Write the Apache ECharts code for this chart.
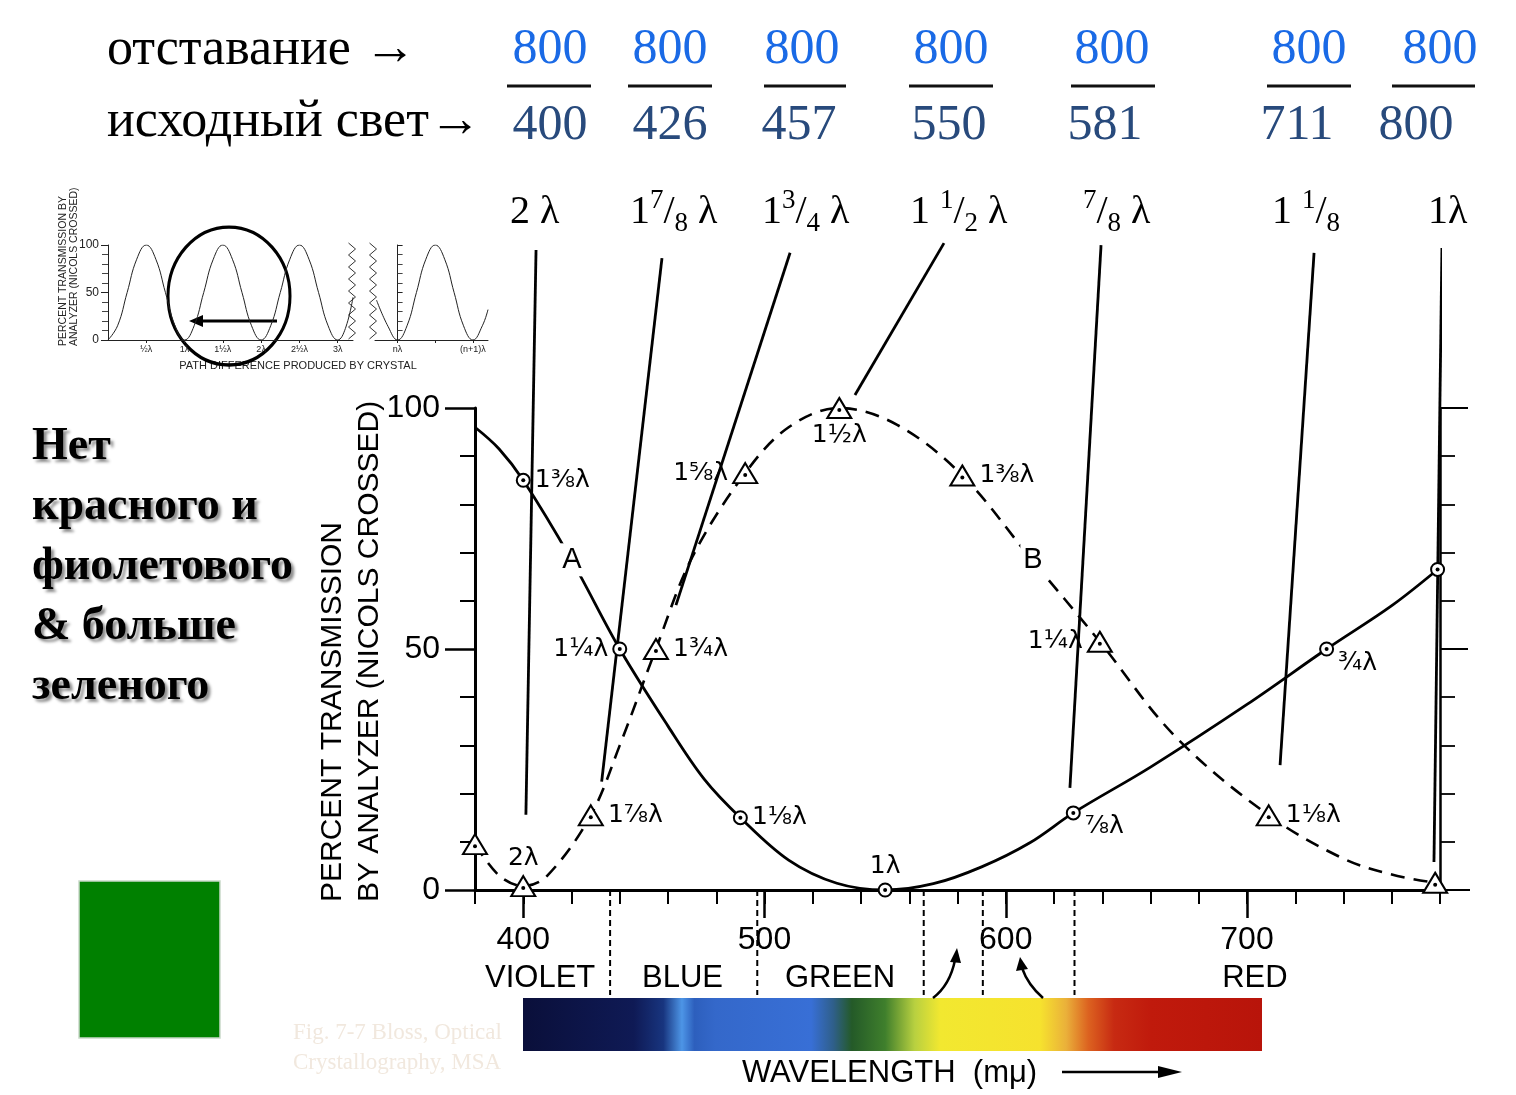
<!DOCTYPE html>
<html><head><meta charset="utf-8">
<script src="https://cdn.jsdelivr.net/npm/echarts@6/dist/echarts.min.js"></script>
<style>html,body{margin:0;padding:0;background:#fff}#c{width:1516px;height:1095px}</style>
</head><body><div id="c"></div><script>
const SANS = "'Liberation Sans', Arial, sans-serif";
const DSANS = "'DejaVu Sans', sans-serif";
const SERIF = "'Liberation Serif', 'Times New Roman', serif";

// ---- main chart data (wavelength in mμ, percent transmission) ----
const aWave  = [380, 390, 400, 420, 440, 460, 475, 490, 510, 530, 550, 570, 590, 610, 628, 660, 700, 733, 760, 779];
const aValue = [96, 91.5, 85, 68.5, 50, 34, 23, 15, 6.2, 1.4, 0, 1.3, 4.8, 9.8, 16, 25.5, 38.5, 50, 59, 66.5];
const aMarkLabel = [null, null, '1⅜λ', null, '1¼λ', null, null, '1⅛λ', null, null, '1λ', null, null, null, '⅞λ', null, null, '¾λ', null, ''];
const aLabelPos  = [null, null, 'right', null, 'left', null, null, 'right', null, null, 'top', null, null, null, 'right', null, null, 'right', null, null];

const bWave  = [380, 390, 400, 410, 428, 440, 455, 470, 492, 510, 531, 555, 582, 610, 639, 670, 709, 740, 760, 778];
const bValue = [9.5, 3, 0.8, 3, 15.5, 30, 50, 69, 86.5, 96, 100, 96.5, 86, 69, 51.5, 32, 15.5, 6.5, 3.2, 1.5];
const bMarkLabel = ['', null, '2λ', null, '1⅞λ', null, '1¾λ', null, '1⅝λ', null, '1½λ', null, '1⅜λ', null, '1¼λ', null, '1⅛λ', null, null, ''];
const bLabelPos  = [null, null, 'top', null, 'right', null, 'right', null, 'left', null, 'bottom', null, 'right', null, 'left', null, 'right', null, null, null];

const curveNames = ['A', 'B'];
const curveNameX = [420.2, 611.3];
const curveNameY = [68.5, 68.5];

// annotation lines: from the retardation labels above the plot down to the curves
const annoTop = [[405.3, 132.8], [457.5, 131.1], [510.6, 132.2], [574.4, 134.2], [639.5, 133.8], [727.8, 132.2], [780.8, 133.2]];
const annoEnd = [[401.1, 15.6], [432.5, 22.5], [463.3, 59.1], [537.5, 102.7], [626.6, 21.2], [713.7, 25.9], [777.5, 5.8]];

const xMajor = [400, 500, 600, 700];
const bandEdges = [436, 497, 566, 590.5, 628.5];
const bandEdgeBottom = -21.8;
const bandNames = ['VIOLET', 'BLUE', 'GREEN', 'RED'];
const bandLabelX = [407, 466, 531.3, 703.3];
const bandLabelY = -18.3;

// ---- header texts ----
const retardNum = ['800', '800', '800', '800', '800', '800', '800'];
const sourceDen = ['400', '426', '457', '550', '581', '711', '800'];
const lambdaRow = ['{n|2 λ}', '{n|1}{sup|7}{n|/}{sub|8}{n| λ}', '{n|1}{sup|3}{n|/}{sub|4}{n| λ}',
  '{n|1 }{sup|1}{n|/}{sub|2}{n| λ}', '{sup|7}{n|/}{sub|8}{n| λ}', '{n|1 }{sup|1}{n|/}{sub|8}', '{n|1λ}'];

// ---- inset (transmission vs path difference) ----
const insetX = [0, .125, .25, .375, .5, .625, .75, .875, 1, 1.125, 1.25, 1.375, 1.5, 1.625, 1.75, 1.875, 2, 2.125, 2.25, 2.375, 2.5, 2.625, 2.75, 2.875, 3, 3.1, 3.2];
const insetY = [0, 15, 50, 85, 100, 85, 50, 15, 0, 15, 50, 85, 100, 85, 50, 15, 0, 15, 50, 85, 100, 85, 50, 15, 0, 12, 45];
const inset2X = [-0.28, -0.125, 0, .125, .25, .375, .5, .625, .75, .875, 1, 1.125, 1.2];
const inset2Y = [42, 14, 0, 15, 50, 85, 100, 85, 50, 15, 0, 15, 32];
const insetTickVals = [0.5, 1, 1.5, 2, 2.5, 3];
const insetTickText = ['½λ', '1λ', '1½λ', '2λ', '2½λ', '3λ'];
const inset2TickVals = [0, 1];
const inset2TickText = ['nλ', '(n+1)λ'];

// ---------------------------------------------------------------
const chart = echarts.init(document.getElementById('c'));

const pairs = (xs, ys) => xs.map((x, i) => [x, ys[i]]);

function markers(xs, ys, labels, pos) {
  const out = [];
  xs.forEach((x, i) => {
    if (labels[i] === null) return;
    const p = pos[i] || 'right';
    let offset = [0, 0];
    if (labels[i] === '⅞λ' || labels[i] === '¾λ') offset = [0, 14];
    out.push({ value: [x, ys[i]], label: { show: !!labels[i], formatter: labels[i], position: p, offset: offset } });
  });
  return out;
}

const labelStyle = { color: '#000', opacity: 1, fontSize: 25, fontFamily: DSANS, distance: 4 };

const series = [
  { type: 'line', xAxisIndex: 0, yAxisIndex: 0, data: pairs(aWave, aValue), smooth: 0.35, symbol: 'none',
    lineStyle: { color: '#000', width: 2.8 }, z: 3, silent: true },
  { type: 'line', xAxisIndex: 0, yAxisIndex: 0, data: pairs(bWave, bValue), smooth: 0.35, symbol: 'none',
    lineStyle: { color: '#000', width: 2.6, type: [14, 9] }, z: 3, silent: true },
  { type: 'scatter', xAxisIndex: 0, yAxisIndex: 0, data: markers(aWave, aValue, aMarkLabel, aLabelPos),
    symbol: 'emptyCircle', symbolSize: 13, itemStyle: { color: '#000', borderWidth: 2, opacity: 1 }, label: labelStyle, z: 6, clip: false, silent: true },
  { type: 'scatter', xAxisIndex: 0, yAxisIndex: 0, data: markers(bWave, bValue, bMarkLabel, bLabelPos),
    symbol: 'emptyTriangle', symbolSize: [24, 20], itemStyle: { color: '#000', borderWidth: 2.2, opacity: 1 }, label: labelStyle, z: 6, clip: false, silent: true },
  { type: 'scatter', xAxisIndex: 0, yAxisIndex: 0,
    data: markers(aWave, aValue, aMarkLabel, aLabelPos).map(d => d.value).concat(markers(bWave, bValue, bMarkLabel, bLabelPos).map(d => [d.value[0], d.value[1] - 0.4])),
    symbol: 'circle', symbolSize: 4, itemStyle: { color: '#000', opacity: 1 }, z: 7, clip: false, silent: true },
  { type: 'scatter', xAxisIndex: 0, yAxisIndex: 0, data: curveNames.map((n, i) => ({ value: [curveNameX[i], curveNameY[i]], name: n })),
    symbolSize: 0, itemStyle: { opacity: 1 }, label: { show: true, formatter: '{b}', position: 'inside', color: '#000', opacity: 1, fontSize: 29, fontFamily: SANS,
      backgroundColor: '#fff', padding: [2, 3] }, z: 8, silent: true },
  { type: 'scatter', xAxisIndex: 0, yAxisIndex: 0, data: bandNames.map((n, i) => ({ value: [bandLabelX[i], bandLabelY], name: n })),
    symbolSize: 0, clip: false, itemStyle: { opacity: 1 }, label: { show: true, formatter: '{b}', position: 'inside', color: '#000', opacity: 1, fontSize: 31, fontFamily: SANS }, silent: true }
];
annoTop.forEach((t, i) => {
  series.push({ type: 'line', xAxisIndex: 0, yAxisIndex: 0, data: [t, annoEnd[i]], symbol: 'none', clip: false,
    lineStyle: { color: '#000', width: 2.8 }, z: 5, silent: true });
});
bandEdges.forEach(x => {
  series.push({ type: 'line', xAxisIndex: 0, yAxisIndex: 0, data: [[x, 0], [x, bandEdgeBottom]], symbol: 'none', clip: false,
    lineStyle: { color: '#000', width: 2, type: [6, 4] }, z: 2, silent: true });
});
series.push({ type: 'line', xAxisIndex: 2, yAxisIndex: 2, data: pairs(insetX, insetY), smooth: 0.45, symbol: 'none',
  lineStyle: { color: '#222', width: 1 }, silent: true });
series.push({ type: 'line', xAxisIndex: 3, yAxisIndex: 3, data: pairs(inset2X, inset2Y), smooth: 0.45, symbol: 'none',
  lineStyle: { color: '#222', width: 1 }, silent: true });

// ---- graphic (text & decoration) ----
const g = [];
const numX = [550, 670, 802, 951, 1112, 1309, 1440];
const denX = [550, 670, 799, 949, 1105, 1297, 1416];
const barX = [[507, 591], [628, 712], [764, 846], [909, 993], [1071, 1155], [1267, 1351], [1392, 1475]];
const lamX = [510, 630, 762, 910, 1083, 1272, 1428];
g.push({ type: 'text', x: 107, y: 50, style: { text: 'отставание →', font: '52px ' + SERIF, fill: '#000', textAlign: 'left', textVerticalAlign: 'middle' } });
g.push({ type: 'text', x: 107, y: 122, style: { text: 'исходный свет→', font: '52px ' + SERIF, fill: '#000', textAlign: 'left', textVerticalAlign: 'middle' } });
retardNum.forEach((t, i) => {
  g.push({ type: 'text', x: numX[i], y: 50, style: { text: t, font: '50px ' + SERIF, fill: '#1a6ae6', textAlign: 'center', textVerticalAlign: 'middle' } });
  g.push({ type: 'line', shape: { x1: barX[i][0], y1: 86, x2: barX[i][1], y2: 86 }, style: { stroke: '#111', lineWidth: 3 } });
  g.push({ type: 'text', x: denX[i], y: 126, style: { text: sourceDen[i], font: '50px ' + SERIF, fill: '#284a7c', textAlign: 'center', textVerticalAlign: 'middle' } });
  g.push({ type: 'text', x: lamX[i], y: 212, style: { text: lambdaRow[i], fill: '#000', textAlign: 'left', textVerticalAlign: 'middle',
    rich: {
      n: { fontSize: 40, fontFamily: SERIF, lineHeight: 50, verticalAlign: 'middle', fill: '#000', color: '#000' },
      sup: { fontSize: 27, fontFamily: SERIF, lineHeight: 30, verticalAlign: 'top', fill: '#000', color: '#000' },
      sub: { fontSize: 27, fontFamily: SERIF, lineHeight: 30, verticalAlign: 'bottom', fill: '#000', color: '#000' }
    } } });
});
// left statement
g.push({ type: 'text', x: 32, y: 417, style: { text: 'Нет\nкрасного и\nфиолетового\n& больше\nзеленого',
  font: 'bold 46px ' + SERIF, lineHeight: 60, fill: '#000', textAlign: 'left', textVerticalAlign: 'top',
  textShadowColor: 'rgba(0,0,0,0.45)', textShadowBlur: 3, textShadowOffsetX: 3, textShadowOffsetY: 3 } });
// green square
g.push({ type: 'rect', shape: { x: 79, y: 881, width: 141, height: 157 }, style: { fill: '#008000', stroke: '#c9d9c9', lineWidth: 1.5 } });
// faded caption
g.push({ type: 'text', x: 293, y: 1048, style: { text: 'Fig. 7-7 Bloss, Optical\nCrystallography, MSA', font: '23px ' + SERIF, lineHeight: 30,
  fill: '#f1e8de', textAlign: 'left', textVerticalAlign: 'middle' } });
// main y-axis title
g.push({ type: 'text', x: 333, y: 902, rotation: Math.PI / 2, style: { text: 'PERCENT TRANSMISSION', font: '30px ' + SANS, fill: '#000', textAlign: 'left', textVerticalAlign: 'middle' } });
g.push({ type: 'text', x: 370, y: 902, rotation: Math.PI / 2, style: { text: 'BY ANALYZER (NICOLS CROSSED)', font: '30px ' + SANS, fill: '#000', textAlign: 'left', textVerticalAlign: 'middle' } });
// x-axis line extension past right frame
g.push({ type: 'line', shape: { x1: 1440, y1: 890, x2: 1470, y2: 890 }, style: { stroke: '#000', lineWidth: 2 } });
// spectrum bar
g.push({ type: 'rect', shape: { x: 523, y: 998, width: 739, height: 53 }, style: { fill: {
  type: 'linear', x: 0, y: 0, x2: 1, y2: 0, colorStops: [
    { offset: 0, color: '#0a0f3a' }, { offset: 0.15, color: '#0f1a55' }, { offset: 0.19, color: '#18357f' },
    { offset: 0.215, color: '#4d95e6' }, { offset: 0.232, color: '#2d5fbd' }, { offset: 0.26, color: '#3468ca' },
    { offset: 0.39, color: '#386fd6' }, { offset: 0.42, color: '#2f5f8a' }, { offset: 0.445, color: '#245a28' },
    { offset: 0.49, color: '#3f7f2c' }, { offset: 0.53, color: '#b8d040' }, { offset: 0.565, color: '#f2e830' },
    { offset: 0.7, color: '#f6e22e' }, { offset: 0.735, color: '#eab03a' }, { offset: 0.765, color: '#dc6220' },
    { offset: 0.8, color: '#c72a12' }, { offset: 0.85, color: '#c01a0c' }, { offset: 1, color: '#b8140a' }] } } });
// wavelength caption + arrow
g.push({ type: 'text', x: 742, y: 1073, style: { text: 'WAVELENGTH  (mμ)', font: '31px ' + SANS, fill: '#000', textAlign: 'left', textVerticalAlign: 'middle' } });
g.push({ type: 'line', shape: { x1: 1062, y1: 1072, x2: 1165, y2: 1072 }, style: { stroke: '#000', lineWidth: 2.5 } });
g.push({ type: 'polygon', shape: { points: [[1158, 1066], [1182, 1072], [1158, 1078]] }, style: { fill: '#000' } });
// small curved arrows
g.push({ type: 'bezierCurve', shape: { x1: 933, y1: 998, cpx1: 950, cpy1: 985, x2: 955, y2: 960 }, style: { stroke: '#000', lineWidth: 2.5, fill: null } });
g.push({ type: 'polygon', shape: { points: [[950, 962], [957, 948], [961, 963]] }, style: { fill: '#000' } });
g.push({ type: 'bezierCurve', shape: { x1: 1043, y1: 998, cpx1: 1028, cpy1: 985, x2: 1022, y2: 968 }, style: { stroke: '#000', lineWidth: 2.5, fill: null } });
g.push({ type: 'polygon', shape: { points: [[1016, 971], [1020, 957], [1028, 969]] }, style: { fill: '#000' } });
// inset decorations
g.push({ type: 'text', x: 63, y: 346, rotation: Math.PI / 2, style: { text: 'PERCENT TRANSMISSION BY', font: '10.5px ' + SANS, fill: '#222', textAlign: 'left', textVerticalAlign: 'middle' } });
g.push({ type: 'text', x: 74, y: 346, rotation: Math.PI / 2, style: { text: 'ANALYZER (NICOLS CROSSED)', font: '10.5px ' + SANS, fill: '#222', textAlign: 'left', textVerticalAlign: 'middle' } });
g.push({ type: 'text', x: 298, y: 366, style: { text: 'PATH DIFFERENCE PRODUCED BY CRYSTAL', font: '11px ' + SANS, fill: '#222', textAlign: 'center', textVerticalAlign: 'middle' } });
g.push({ type: 'circle', x: 229, y: 296, scaleY: 1.13, shape: { cx: 0, cy: 0, r: 61 }, style: { fill: null, stroke: '#000', lineWidth: 3, strokeNoScale: true } });
g.push({ type: 'line', shape: { x1: 277, y1: 321, x2: 200, y2: 321 }, style: { stroke: '#000', lineWidth: 3 } });
g.push({ type: 'polygon', shape: { points: [[203, 315], [189, 321], [203, 327]] }, style: { fill: '#000' } });
function zig(x0) { const p = []; for (let k = 0; k <= 16; k++) p.push([x0 + (k % 2 ? 3.5 : -3.5), 243 + k * 6]); return p; }
g.push({ type: 'polyline', shape: { points: zig(352) }, style: { stroke: '#333', lineWidth: 1, fill: null } });
g.push({ type: 'polyline', shape: { points: zig(373) }, style: { stroke: '#333', lineWidth: 1, fill: null } });

const option = {
  animation: false,
  backgroundColor: '#fff',
  grid: [
    { left: 475, top: 408, width: 965, height: 482, outerBoundsMode: 'none' },
    { left: 108, top: 245, width: 245, height: 95, outerBoundsMode: 'none' },
    { left: 375, top: 245, width: 113, height: 95, outerBoundsMode: 'none' }
  ],
  xAxis: [
    { gridIndex: 0, type: 'value', min: 380, max: 780, position: 'bottom',
      axisLine: { show: true, lineStyle: { color: '#000', width: 3 } },
      axisTick: { show: true, customValues: xMajor, length: 28, lineStyle: { color: '#000', width: 2.5 } },
      axisLabel: { show: true, customValues: xMajor, margin: 34, color: '#000', fontSize: 32, fontFamily: SANS },
      splitLine: { show: false } },
    { gridIndex: 0, type: 'value', min: 380, max: 780, interval: 20, position: 'bottom', offset: 0,
      axisLine: { show: false }, axisTick: { show: true, length: 14, lineStyle: { color: '#000', width: 2 } },
      axisLabel: { show: false }, splitLine: { show: false } },
    { gridIndex: 1, type: 'value', min: 0, max: 3.2, position: 'bottom',
      axisLine: { show: true, lineStyle: { color: '#222', width: 1 } },
      axisTick: { show: true, customValues: insetTickVals, length: 3, lineStyle: { color: '#222' } },
      axisLabel: { show: true, customValues: insetTickVals, formatter: v => insetTickText[insetTickVals.indexOf(v)], color: '#222', fontSize: 9, fontFamily: SANS, margin: 5 },
      splitLine: { show: false } },
    { gridIndex: 2, type: 'value', min: -0.3, max: 1.2, position: 'bottom',
      axisLine: { show: true, lineStyle: { color: '#222', width: 1 } },
      axisTick: { show: true, customValues: [0, 0.5, 1], length: 3, lineStyle: { color: '#222' } },
      axisLabel: { show: true, customValues: inset2TickVals, formatter: v => inset2TickText[inset2TickVals.indexOf(v)], color: '#222', fontSize: 9, fontFamily: SANS, margin: 5 },
      splitLine: { show: false } }
  ],
  yAxis: [
    { gridIndex: 0, type: 'value', min: 0, max: 100, interval: 50, position: 'left',
      axisLine: { show: true, lineStyle: { color: '#000', width: 3 } },
      axisTick: { show: true, length: 30, lineStyle: { color: '#000', width: 2.5 } },
      minorTick: { show: true, splitNumber: 5, length: 15, lineStyle: { color: '#000', width: 2 } },
      axisLabel: { color: '#000', fontSize: 32, fontFamily: SANS, margin: 35 },
      splitLine: { show: false }, minorSplitLine: { show: false } },
    { gridIndex: 0, type: 'value', min: 0, max: 100, interval: 50, position: 'right',
      axisLine: { show: true, lineStyle: { color: '#000', width: 2.5 } },
      axisTick: { show: true, length: 28, lineStyle: { color: '#000', width: 2 } },
      minorTick: { show: true, splitNumber: 5, length: 15, lineStyle: { color: '#000', width: 1.8 } },
      axisLabel: { show: false }, splitLine: { show: false }, minorSplitLine: { show: false } },
    { gridIndex: 1, type: 'value', min: 0, max: 100, interval: 50, position: 'left',
      axisLine: { show: true, lineStyle: { color: '#222', width: 1 } },
      axisTick: { show: true, length: 7, lineStyle: { color: '#222' } },
      minorTick: { show: true, splitNumber: 5, length: 6, lineStyle: { color: '#444' } },
      axisLabel: { color: '#222', fontSize: 12, fontFamily: SANS, margin: 9 },
      splitLine: { show: false }, minorSplitLine: { show: false } },
    { gridIndex: 2, type: 'value', min: 0, max: 100, interval: 50, position: 'right',
      axisLine: { show: true, lineStyle: { color: '#222', width: 1 } },
      axisTick: { show: true, length: 5, lineStyle: { color: '#222' } },
      minorTick: { show: true, splitNumber: 5, length: 5, lineStyle: { color: '#444' } },
      axisLabel: { show: false }, splitLine: { show: false }, minorSplitLine: { show: false } }
  ],
  series: series,
  graphic: g
};
chart.setOption(option);
</script></body></html>
